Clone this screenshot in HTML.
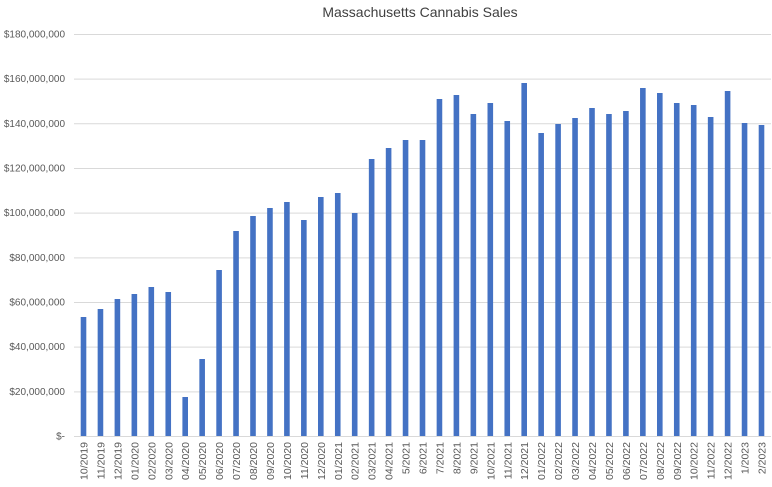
<!DOCTYPE html>
<html><head><style>body{margin:0;background:#fff}svg{display:block}</style></head>
<body>
<svg width="772" height="487" xmlns="http://www.w3.org/2000/svg" font-family="Liberation Sans, sans-serif">
<rect width="772" height="487" fill="#fff"/>
<text x="420" y="17" font-size="14" text-anchor="middle" fill="#404040">Massachusetts Cannabis Sales</text>
<g stroke="#d9d9d9" stroke-width="1" id="grid"></g>
<g font-size="10" fill="#595959" text-anchor="end" id="yl"></g>
<g fill="#4472c4" id="bars"></g>
<g font-size="10.5" fill="#595959" text-anchor="end" id="xl"></g>
<script>
var ns="http://www.w3.org/2000/svg";
function el(t,a,p,txt){var e=document.createElementNS(ns,t);for(var k in a)e.setAttribute(k,a[k]);if(txt)e.textContent=txt;document.getElementById(p).appendChild(e);}
var yl=["$-","$20,000,000","$40,000,000","$60,000,000","$80,000,000","$100,000,000","$120,000,000","$140,000,000","$160,000,000","$180,000,000"];
for(var i=0;i<10;i++){var y=436-i*44.67;el("line",{x1:74,x2:771,y1:y+0.5,y2:y+0.5},"grid");el("text",{x:65,y:y+3.5},"yl",yl[i]);}
var tops=[317,309,299,294,287,292,397,359,270,231,216,208,202,220,197,193,213,159,148,140,140,99,95,114,103,121,83,133,124,118,108,114,111,88,93,103,105,117,91,123,125];
var labs=["10/2019","11/2019","12/2019","01/2020","02/2020","03/2020","04/2020","05/2020","06/2020","07/2020","08/2020","09/2020","10/2020","11/2020","12/2020","01/2021","02/2021","03/2021","04/2021","5/2021","6/2021","7/2021","8/2021","9/2021","10/2021","11/2021","12/2021","01/2022","02/2022","03/2022","04/2022","05/2022","06/2022","07/2022","08/2022","09/2022","10/2022","11/2022","12/2022","1/2023","2/2023"];
for(var i=0;i<41;i++){var c=83.5+i*16.95;el("rect",{x:c-2.8,y:tops[i],width:5.6,height:436-tops[i]},"bars");
el("text",{x:0,y:0,transform:"translate("+(c+4)+",442) rotate(-90)"},"xl",labs[i]);}
</script>
</svg>
</body></html>
